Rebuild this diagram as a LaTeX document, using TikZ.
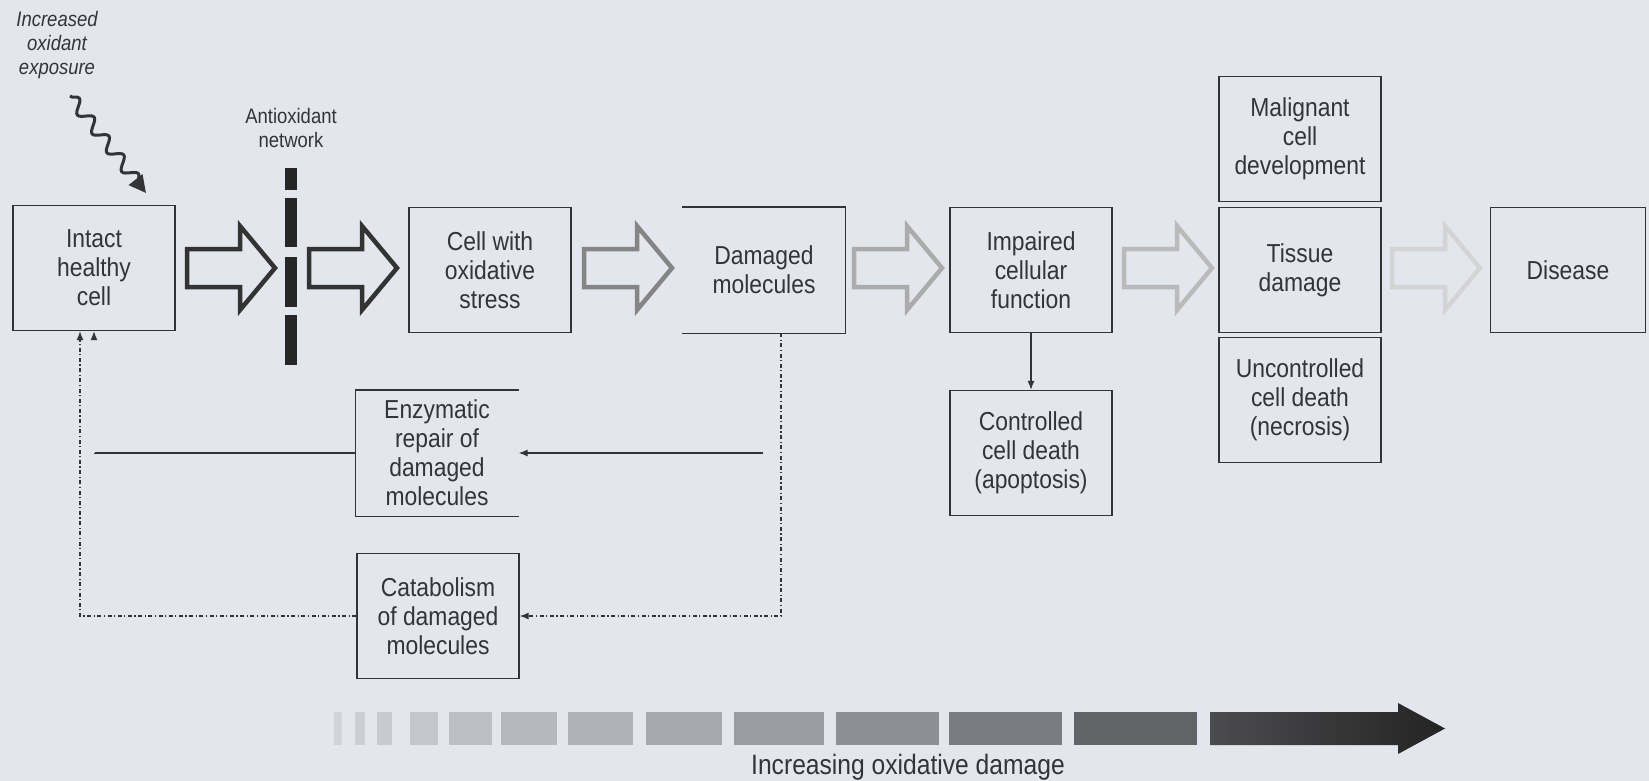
\documentclass[tikz,border=0pt]{standalone}
\usepackage{fontspec}
\setmainfont[FakeStretch=0.88]{Liberation Sans}
\usetikzlibrary{arrows.meta,decorations.pathmorphing}
\definecolor{bgpaper}{RGB}{228,230,238}
\definecolor{inkgray}{RGB}{52,52,56}
\newcommand{\hollowarrow}[2]{%
  \draw[#2,line width=4.5pt,line join=miter,fill=bgpaper]
    (#1+2,249) -- ++(53,0) -- ++(0,-23) -- ++(35,42) -- ++(-35,42)
    -- ++(0,-23) -- ++(-53,0) -- cycle;}

\begin{document}
\begin{tikzpicture}
  [x=1pt,y=-1pt,
   edge/.style={draw=inkgray,line width=1.3pt},
   box/.style={edge,minimum width=162pt,minimum height=125pt,inner sep=0pt,
     align=center,text=inkgray,font=\fontsize{26}{29}\selectfont},
   openbox/.style={box,draw=none},
   small/.style={align=center,text=inkgray,font=\fontsize{21}{24}\selectfont},
   fbline/.style={inkgray,line width=1.2pt},
   fbdots/.style={fbline,dash pattern=on 4pt off 2.5pt on 1.2pt off 2.5pt},
   tip/.style={-{Latex[length=9pt,width=7pt]}}]
  \fill[bgpaper] (0,0) rectangle (1649,781);
  \useasboundingbox (0,0) rectangle (1649,781);

  \node[box] (intact) at (94,268) {Intact\\healthy\\cell};
  \node[box] (stress) at (490,270) {Cell with\\oxidative\\stress};
  \node[openbox] (dmg) at (764,270) {Damaged\\molecules};
  \node[box] (impair) at (1031,270) {Impaired\\cellular\\function};
  \node[box] (malig) at (1300,139) {Malignant\\cell\\development};
  \node[box] (tissue) at (1300,270) {Tissue\\damage};
  \node[box] (necro) at (1300,400) {Uncontrolled\\cell death\\(necrosis)};
  \node[box,minimum width=155pt] (disease) at (1568,270) {Disease};
  \node[openbox] (repair) at (437,453) {Enzymatic\\repair of\\damaged\\molecules};
  \node[box] (catab) at (438,616) {Catabolism\\of damaged\\molecules};
  \node[box] (apopt) at (1031,453) {Controlled\\cell death\\(apoptosis)};
  \draw[edge] (dmg.north west) -- (dmg.north east) -- (dmg.south east) -- (dmg.south west);
  \draw[edge] (repair.north east) -- (repair.north west) -- (repair.south west) -- (repair.south east);

  \node[small,font=\itshape\fontsize{21}{24}\selectfont] (expo) at (57,45) {Increased\\oxidant\\exposure};
  \node[small] (antiox) at (291,128) {Antioxidant\\network};
  \node[text=inkgray,font=\fontsize{28}{30}\selectfont] (scale) at (908,767) {Increasing oxidative damage};

  \coordinate (wave0) at (70,96);
  \coordinate (wave1) at (146,193);
  \draw[inkgray,line width=3pt,decorate,
    decoration={snake,amplitude=6pt,segment length=24pt,post length=12pt},
    -{Triangle[length=17pt,width=17pt]}] (wave0) -- (wave1);

  \foreach \a/\b in {168/190,198/247,257/307,315/365}
    \fill[black!85] (285,\a) rectangle (297,\b);

  \foreach \x/\c in {185/black!80,307/black!80,582/black!48,852/black!33,1122/black!27,1390/black!17}
    \hollowarrow{\x}{\c};

  \draw[fbline,tip] (impair.south) -- (apopt.north);
  \coordinate (rp0) at (763,453);
  \coordinate (rp1) at (94,453);
  \draw[fbline,tip] (rp0) -- (repair.east);
  \draw[fbline] (repair.west) -- (rp1);
  \draw[bgpaper,line width=1.2pt,-{Latex[length=9pt,width=7pt,color=inkgray]}] (rp1) -- (rp1 |- intact.south);
  \draw[fbdots,tip] ([xshift=17pt]dmg.south) |- (catab.east);
  \draw[fbdots,tip] (catab.west) -| ([xshift=-14pt]intact.south);

  \foreach \a/\b/\k in {334/342/8,355/365/10,377/392/12,410/438/14,449/492/17,501/557/20,
      568/633/23,646/722/27,734/824/32,836/939/38,949/1062/46,1074/1197/57}
    \fill[black!\k!bgpaper] (\a,712) rectangle (\b,745);
  \shade[left color=black!67!bgpaper,right color=black!86]
    (1210,712) -- (1398,712) -- (1398,703) -- (1445,728.5) -- (1398,754) -- (1398,745) -- (1210,745) -- cycle;
\end{tikzpicture}
\end{document}
